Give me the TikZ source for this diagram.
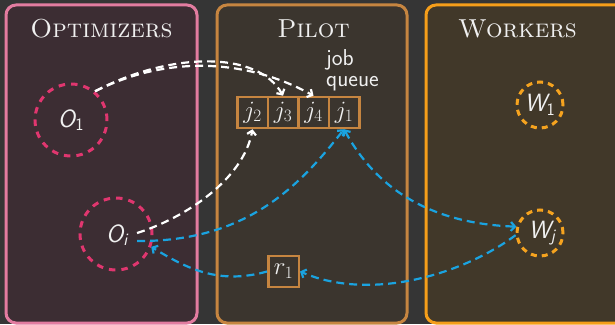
\documentclass[tikz,border=0pt]{standalone}
\usepackage{fontspec}
\usetikzlibrary{arrows.meta}
\definecolor{bgcol}{HTML}{353535}
\definecolor{optfill}{HTML}{3C2D33}
\definecolor{optline}{HTML}{E27CA0}
\definecolor{pilfill}{HTML}{3B352E}
\definecolor{pilline}{HTML}{C68540}
\definecolor{wrkfill}{HTML}{413829}
\definecolor{wrkline}{HTML}{F59E1A}
\definecolor{ocol}{HTML}{E0366F}
\definecolor{wcol}{HTML}{F5A31F}
\definecolor{bcol}{HTML}{1AA3E0}
\definecolor{txt}{HTML}{F0F0F0}
\begin{document}
\begin{tikzpicture}[x=1pt,y=1pt,
  panel/.style={line width=3pt, rounded corners=10pt},
  title/.style={text=txt, font=\fontsize{26}{30}\selectfont\scshape, anchor=base, inner sep=0pt},
  ocirc/.style={circle, draw=ocol, dash pattern=on 6.5pt off 6pt, line width=3pt, minimum size=72pt, inner sep=0pt},
  wcirc/.style={circle, draw=wcol, dash pattern=on 6pt off 5pt, line width=3pt, minimum size=46pt, inner sep=0pt},
  lbl/.style={text=txt, font=\fontsize{25}{28}\selectfont\sffamily\itshape, inner sep=0pt},
  jbox/.style={draw=pilline, line width=2.5pt, minimum width=30.5pt, minimum height=31pt, inner sep=0pt, text=txt, font=\fontsize{24}{28}\selectfont},
  jq/.style={text=txt, font=\fontsize{23}{20}\selectfont\sffamily, anchor=base west, inner sep=0pt},
  tip/.tip={Straight Barb[length=4pt,width=9pt]},
  wflow/.style={draw=white, line width=2.2pt, dash pattern=on 8pt off 5pt, -tip},
  bflow/.style={draw=bcol, line width=2.2pt, dash pattern=on 8pt off 5pt, -tip},
]
\useasboundingbox (0,0) rectangle (615,324);
\fill[bgcol] (0,0) rectangle (615,324);
% panels
\draw[panel, draw=optline, fill=optfill] (6,1) rectangle (197,319);
\draw[panel, draw=pilline, fill=pilfill] (217,1) rectangle (407,319);
\draw[panel, draw=wrkline, fill=wrkfill] (426,1) rectangle (640,319);
\node[title] (topt) at (101.5,286) {Optimizers};
\node[title] (tpil) at (313.5,286) {Pilot};
\node[title] (twrk) at (517.5,286) {Workers};
% optimizers
\node[ocirc] (O1) at (71,204) {};
\node[lbl] (O1l) at (O1) {O\textsubscript{\upshape 1}};
\node[ocirc] (Oi) at (116,90) {};
\node[lbl, inner xsep=9pt] (Oil) at (117,89) {O\textsubscript{i}};
% workers
\node[wcirc] (W1) at (540,219) {};
\node[lbl] (W1l) at (W1) {W\textsubscript{\upshape 1}};
\node[wcirc] (Wj) at (540,91) {};
\node[lbl] (Wjl) at (542,91) {W\textsubscript{j}};
% job queue
\node[jbox] (j2) at (252.5,211.5) {$j_2$};
\node[jbox] (j3) at (283,211.5) {$j_3$};
\node[jbox] (j4) at (313.5,211.5) {$j_4$};
\node[jbox] (j1) at (344,211.5) {$j_1$};
\node[text=txt, font=\fontsize{23}{21}\selectfont\sffamily, align=left, anchor=north west, inner sep=0pt] (jq) at (326,274.5) {job\\queue};
\node[jbox] (r1) at (283.5,52.5) {$r_1$};
% connectors
\draw[wflow] (O1.50) .. controls +(76,40) and +(-25,45) .. (j3.north);
\draw[wflow] (O1.50) .. controls +(76,38) and +(-63,35) .. (j4.north);
\draw[wflow] ([yshift=2pt]Oil.east) .. controls +(48,15) and +(-9,-50) .. (j2.south);
\draw[bflow] ([yshift=-6pt]Oil.east) .. controls +(110,-1) and +(-44,-56) .. (j1.south);
\draw[bflow, tip-tip] (j1.south) .. controls +(36,-66) and +(-78,3) .. (Wj.165);
\draw[bflow] (Wj.185) .. controls +(-52,-39) and +(71,-30.5) .. (r1.east);
\draw[bflow] (r1.west) .. controls +(-48,-13.5) and +(36,-22) .. (Oi.-20);
\end{tikzpicture}
\end{document}
